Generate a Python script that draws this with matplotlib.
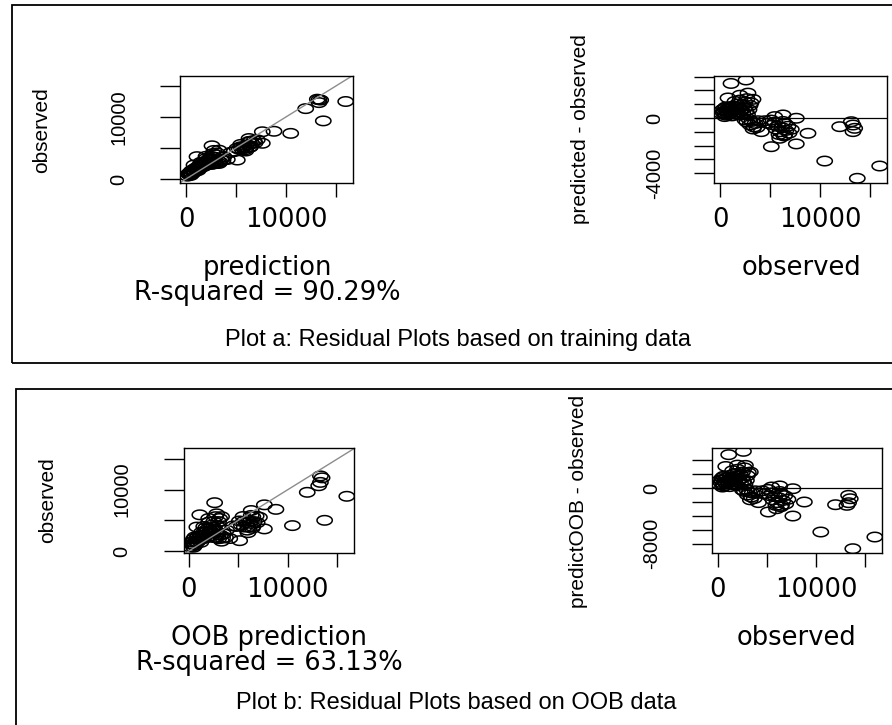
import numpy as np
import matplotlib.pyplot as plt
from matplotlib.path import Path
from matplotlib.patches import Rectangle

# x of every panel
observed = [1100, 2600, 2800, 2000, 3300, 800, 470, 4130, 5470, 6300,
            7630, 7130, 8800, 7630, 5130, 5970, 6470, 4800, 6470, 11970,
            13300, 13470, 13300, 13130, 10470, 15970, 13730,
            400, 450, 500, 600, 700, 800, 850, 950, 1000, 1100,
            1150, 1250, 1300, 1400, 1500, 1550, 1650, 1750, 1800, 1900,
            2000, 2150, 2300, 2450, 2600, 2750, 2900, 600, 1200, 2000,
            150, 250, 300,
            1500, 1700, 2000, 2300, 2500, 2700, 3000, 3100,
            2500, 2700, 2900, 3000, 3200, 3400, 3500, 3700, 3800, 3300,
            5100, 5300, 5500, 5600, 5800, 6000, 6200, 6400, 6600, 6800,
            6900, 5900, 6300, 4500]

# predicted - observed, training data
resid_train = [2500, 2750, 1800, 1650, 1350, 1450, 100, -990, 100, 220,
               -20, -820, -1110, -1880, -2080, -1470, -1230, -390, -390, -630,
               -510, -750, -990, -270, -3120, -3480, -4370,
               500, 700, 300, 800, 450, 650, 250, 800, 500, 350,
               700, 550, 850, 300, 600, 800, 450, 250, 650, 800,
               400, 600, 300, 700, 500, 250, 600, 200, 150, 200,
               300, 600, 400,
               1200, 1000, 1300, 950, 1150, 1400, 900, 1100,
               -150, -300, -100, -500, -250, -650, -400, -700, -200, -800,
               -150, -500, -300, -800, -600, -1000, -700, -1300, -900, -600,
               -1100, -1200, -250, -200]

# predictOOB - observed
resid_oob = [4800, 5280, 3260, 3300, 2300, 3100, 140, -2100, 150, 300,
             -100, -1630, -2010, -4030, -3450, -2980, -2500, -800, -900, -2400,
             -1050, -1540, -2110, -2490, -6330, -7050, -8730,
             1100, 1500, 500, 1700, 800, 1400, 600, 1500, 1000, 700,
             1300, 1200, 1800, 600, 1100, 1600, 900, 400, 1300, 1700,
             900, 1200, 700, 1400, 1000, 500, 1100, 300, 200, 350,
             500, 1200, 800,
             2500, 2100, 2700, 1900, 2300, 2900, 1800, 2200,
             -300, -500, -200, -1000, -600, -1300, -700, -1500, -400, -1700,
             -200, -1100, -700, -1700, -1200, -2100, -1400, -2700, -1800, -1100,
             -2300, -2500, -500, -400]

x_ticks = [0, 5000, 10000, 15000]
x_ticklabels = ['0', '', '10000', '']

observed = np.array(observed)
pred_train = observed + np.array(resid_train)
pred_oob = observed + np.array(resid_oob)

# R draws the circles squashed because the picture was stretched sideways
t = np.linspace(0, 2 * np.pi, 60)
ellipse = Path(np.column_stack([np.cos(t), 0.62 * np.sin(t)]), closed=True)

W, H = 892, 725
wide = 'DejaVu Sans'
narrow = 'Liberation Sans'


def rect(x0, y0, x1, y1):
    # pixel box (top-left origin) -> figure fraction
    return [x0 / W, 1 - y1 / H, (x1 - x0) / W, (y1 - y0) / H]


def r_plot(box, x, y, xlim, ylim, yticks, yticklabels, xlab, ylab,
           xlab_pos, ylab_pos, ypad, ref):
    ax = fig.add_axes(rect(*box))
    ax.scatter(x, y, s=11 ** 2, marker=ellipse, facecolors='none',
               edgecolors='black', linewidths=1.1)
    if ref == 'diag':
        ax.axline((0, 0), slope=1, color='#8c8c8c', lw=1.0)
    else:
        ax.axhline(0, color='black', lw=0.9)
    ax.set_xlim(xlim)
    ax.set_ylim(ylim)
    ax.set_xticks(x_ticks)
    ax.set_xticklabels(x_ticklabels, fontsize=18.5, family=wide)
    ax.set_yticks(yticks)
    ax.set_yticklabels(yticklabels, fontsize=14.5, family=narrow, rotation=90)
    ax.tick_params(axis='x', length=10, width=1, pad=16.5)
    ax.tick_params(axis='y', length=14.4, width=1, pad=ypad)
    for lab in ax.get_xticklabels():
        lab.set_va('center')
    for lab in ax.get_yticklabels():
        lab.set_ha('center')
        lab.set_va('center')
    for sp in ax.spines.values():
        sp.set_linewidth(1)
    ax.set_xlabel(xlab, fontsize=18.5, family=wide, linespacing=0.95)
    ax.xaxis.label.set_va('center')
    ax.xaxis.set_label_coords(*xlab_pos)
    ax.set_ylabel(ylab, fontsize=15, family=narrow)
    ax.yaxis.label.set_va('center')
    ax.yaxis.set_label_coords(*ylab_pos)
    return ax


fig = plt.figure(figsize=(W / 100, H / 100), dpi=100)

# panel frames
fig.add_artist(Rectangle((12 / W, 1 - 363 / H), 1.2, 358 / H, transform=fig.transFigure,
                         fill=False, lw=1.3, ec='black'))
fig.add_artist(Rectangle((16 / W, -0.1), 1.2, 0.1 + 1 - 389 / H, transform=fig.transFigure,
                         fill=False, lw=1.3, ec='black'))

r_plot((180, 76, 353, 183), observed, pred_train, (-600, 16700), (-650, 16600),
       x_ticks, x_ticklabels, 'prediction\nR-squared = 90.29%', 'observed',
       (0.503, -0.911), (-0.798, 0.495), 29.5, 'diag')
r_plot((714, 76, 887, 183), observed, resid_train, (-600, 16700), (-4710, 3040),
       [-4000, -3000, -2000, -1000, 0, 1000, 2000, 3000],
       ['-4000', '', '', '', '0', '', '', ''], 'observed', 'predicted - observed',
       (0.503, -0.794), (-0.769, 0.505), 28, 'zero')
r_plot((184, 448, 354, 553), observed, pred_oob, (-500, 16700), (-330, 16800),
       x_ticks, x_ticklabels, 'OOB prediction\nR-squared = 63.13%', 'observed',
       (0.5, -0.929), (-0.8, 0.505), 30.5, 'diag')
r_plot((712, 448, 882, 553), observed, resid_oob, (-600, 16700), (-9350, 5760),
       [-8000, -6000, -4000, -2000, 0, 2000, 4000],
       ['-8000', '', '', '', '0', '', ''], 'observed', 'predictOOB - observed',
       (0.5, -0.81), (-0.788, 0.495), 29, 'zero')

fig.text(458 / W, 1 - 340 / H, 'Plot a: Residual Plots based on training data',
         fontsize=17, family='Liberation Sans', ha='center', va='center')
fig.text(456 / W, 1 - 703 / H, 'Plot b: Residual Plots based on OOB data',
         fontsize=17, family='Liberation Sans', ha='center', va='center')

fig.savefig('out.png', dpi=100)
